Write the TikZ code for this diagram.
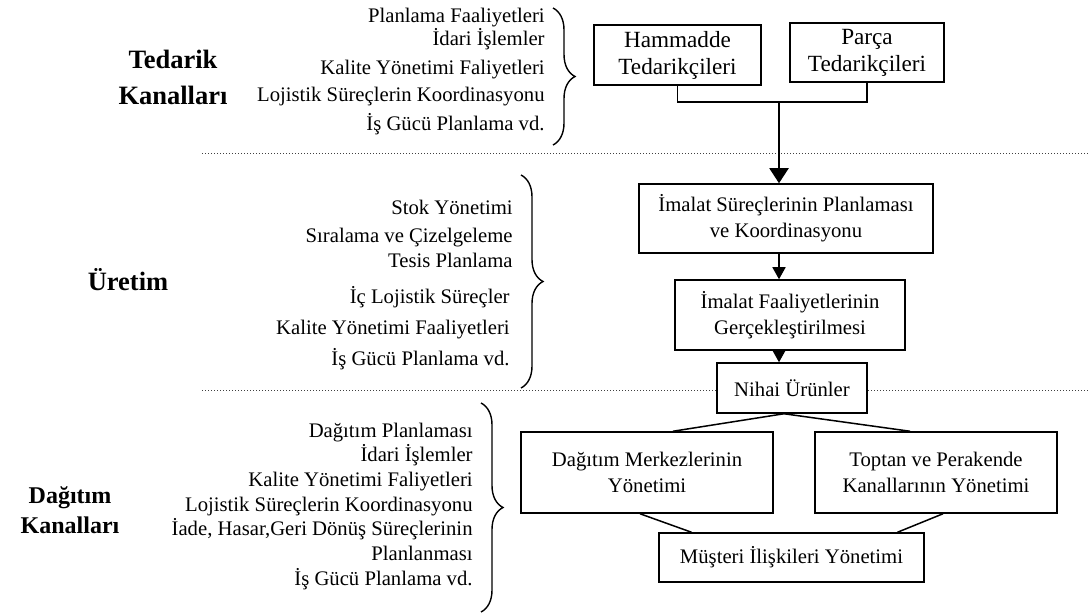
\documentclass[tikz,border=0pt]{standalone}
\usepackage{fontspec}
\setmainfont{Liberation Serif}
\usetikzlibrary{arrows.meta, decorations.pathreplacing, calc}
\newcommand{\dgmfont}{\fontsize{10.35}{13}\selectfont}
\newcommand{\dgmbig}{\fontsize{11.6}{13.5}\selectfont}
\newcommand{\dgmhead}{\fontsize{13.25}{18}\selectfont\bfseries}

\begin{document}
\begin{tikzpicture}[x=0.5pt, y=-0.5pt,
  box/.style={draw, line width=0.75pt, fill=white, align=center, font=\dgmfont, inner sep=0pt},
  item/.style={anchor=east, inner sep=0pt, font=\dgmfont, text height=0.7em, text depth=0.2em},
  head/.style={align=center, font=\dgmhead},
  link/.style={line width=0.75pt},
  flow/.style={line width=0.75pt, -{Triangle[length=6pt,width=6.5pt]}},
  sep/.style={line width=0.5pt, dash pattern=on 0.5pt off 1pt, black!75},
  curly/.style={line width=0.7pt, decorate, decoration={brace, amplitude=11pt}}]
  \useasboundingbox (0,0) rectangle (1090,614);

  % dotted separators
  \draw[sep] (202,154) -- (1090,154);
  \draw[sep] (202,390) -- (1090,390);

  % section titles
  \node[head] (tedarik) at (173,77) {Tedarik\\Kanalları};
  \node[head] (uretim) at (128,280) {Üretim};
  \node[head, font=\fontsize{12}{15}\selectfont\bfseries] (dagitim) at (70,510) {Dağıtım\\Kanalları};

  % activity lists
  \foreach \xx/\yy/\t [count=\i] in {545/18/Planlama Faaliyetleri, 545/41/İdari İşlemler,
      545/70/Kalite Yönetimi Faliyetleri, 545/97/Lojistik Süreçlerin Koordinasyonu,
      545/126/İş Gücü Planlama vd.}
    \node[item] (ta\i) at (\xx,\yy) {\t};
  \foreach \xx/\yy/\t [count=\i] in {513/210/Stok Yönetimi, 513/238/Sıralama ve Çizelgeleme,
      513/263/Tesis Planlama, 510/299/İç Lojistik Süreçler,
      510/330/Kalite Yönetimi Faaliyetleri, 510/360/İş Gücü Planlama vd.}
    \node[item] (ua\i) at (\xx,\yy) {\t};
  \foreach \xx/\yy/\t [count=\i] in {473/432/Dağıtım Planlaması, 473/456/İdari İşlemler,
      473/481/Kalite Yönetimi Faliyetleri, 473/506/Lojistik Süreçlerin Koordinasyonu,
      473/530/{İade, Hasar,Geri Dönüş Süreçlerinin}, 473/555/Planlanması,
      473/580/İş Gücü Planlama vd.}
    \node[item] (da\i) at (\xx,\yy) {\t};

  % braces
  \draw[curly] (553,8) -- (553,145);
  \draw[curly] (521,175) -- (521,388);
  \draw[curly] (481,403) -- (481,612);

  % boxes
  \node[box, font=\dgmbig, minimum width=83.5pt, minimum height=30pt] (ham) at (677.5,55) {Hammadde\\Tedarikçileri};
  \node[box, font=\dgmbig, minimum width=77pt, minimum height=29.5pt] (parca) at (867,52.5) {Parça\\Tedarikçileri};
  \node[box, minimum width=147pt, minimum height=34.5pt] (plan) at (786,218.5) {İmalat Süreçlerinin Planlaması\\ve Koordinasyonu};
  \node[box, minimum width=115pt, minimum height=35pt] (faal) at (790,315) {İmalat Faaliyetlerinin\\Gerçekleştirilmesi};
  \node[box, minimum width=75pt, minimum height=25pt] (nihai) at (792,388) {Nihai Ürünler};
  \node[box, minimum width=126pt, minimum height=40.5pt] (dmerk) at (647,472.5) {Dağıtım Merkezlerinin\\Yönetimi};
  \node[box, minimum width=121pt, minimum height=40.5pt] (toptan) at (936,472.5) {Toptan ve Perakende\\Kanallarının Yönetimi};
  \node[box, minimum width=132.5pt, minimum height=24.5pt] (must) at (791.5,557.5) {Müşteri İlişkileri Yönetimi};

  % connectors
  \coordinate (j) at (779,102);
  \draw[link] (ham.south) |- (j) -| (parca.south);
  \draw[flow, line width=1pt, -{Triangle[length=7.5pt,width=9.5pt]}] (j) -- (j |- plan.north);
  \draw[flow] (j |- plan.south) -- (j |- faal.north);
  \draw[flow] (j |- faal.south) -- (j |- nihai.north);
  \draw[link] ([xshift=13pt]dmerk.north) -- ([xshift=-4pt]nihai.south) -- ([xshift=-13pt]toptan.north);
  \draw[link] ([xshift=-3.5pt]dmerk.south) -- ([xshift=-50pt]must.north);
  \draw[link] ([xshift=3.5pt]toptan.south) -- ([xshift=53pt]must.north);
\end{tikzpicture}
\end{document}
